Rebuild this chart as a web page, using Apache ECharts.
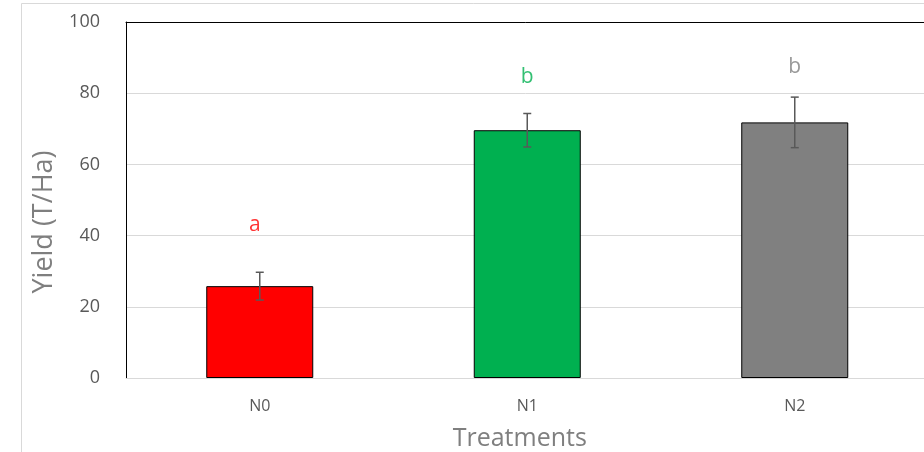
<!DOCTYPE html>
<html><head><meta charset="utf-8">
<script src="https://cdn.jsdelivr.net/npm/echarts@6/dist/echarts.min.js"></script>
<style>html,body{margin:0;padding:0;background:#fff;}#c{width:924px;height:452px;}</style>
</head><body><div id="c"></div>
<script>
var categories = ['N0', 'N1', 'N2'];
var yieldValues = [25.8, 69.6, 71.8];
var errorValues = [3.9, 4.7, 7.1];
var letters = ['a', 'b', 'b'];
var letterValues = [43, 84.6, 87.3];
var barColors = ['#FF0000', '#00B050', '#808080'];
var letterColors = ['#FF0000', '#00B050', '#808080'];
var yTicks = [0, 20, 40, 60, 80, 100];

var chart = echarts.init(document.getElementById('c'));
var font = '"Open Sans", "Noto Sans", sans-serif';
chart.setOption({
  animation: false,
  backgroundColor: '#fff',
  graphic: [{type: 'rect', left: 19, top: 1, shape: {width: 920, height: 460}, style: {fill: 'none', stroke: '#d9d9d9', lineWidth: 1}, silent: true}],
  grid: {left: 126, top: 22, width: 802.5, bottom: 74, containLabel: false, outerBoundsMode: 'none'},
  xAxis: [{
    type: 'category', data: categories,
    axisLine: {show: true, lineStyle: {color: '#d9d9d9', width: 1}},
    axisTick: {show: false},
    axisLabel: {color: '#595959', fontSize: 16, fontFamily: font, margin: 20},
    name: 'Treatments', nameLocation: 'middle', nameGap: 48,
    nameTextStyle: {color: '#7f7f7f', fontSize: 25, fontFamily: font, padding: [0, 15, 0, 0]}
  }, {
    type: 'category', data: categories, position: 'top',
    axisLine: {show: true, lineStyle: {color: '#000', width: 1}},
    axisTick: {show: false}, axisLabel: {show: false}
  }],
  yAxis: {
    type: 'value', min: 0, max: 100, interval: 20,
    axisLine: {show: true, lineStyle: {color: '#000', width: 1}},
    axisTick: {show: false},
    splitLine: {show: true, lineStyle: {color: '#d9d9d9', width: 1}},
    axisLabel: {color: '#595959', fontSize: 18, fontFamily: font, margin: 26},
    name: 'Yield (T/Ha)', nameLocation: 'middle', nameGap: 66, nameRotate: 90,
    nameTextStyle: {color: '#7f7f7f', fontSize: 27, fontFamily: font, padding: [0, 44, 0, 0]}
  },
  series: [{
    type: 'bar', barWidth: '40%',
    data: yieldValues.map(function (v, i) {
      return {value: v, itemStyle: {color: barColors[i], borderColor: '#000', borderWidth: 1}};
    }),
    z: 2
  }, {
    type: 'custom',
    data: yieldValues.map(function (v, i) { return [i, v - errorValues[i], v + errorValues[i]]; }),
    renderItem: function (params, api) {
      var lo = api.coord([api.value(0), api.value(1)]);
      var hi = api.coord([api.value(0), api.value(2)]);
      var hw = 4;
      var st = {stroke: '#595959', lineWidth: 1.5};
      return {type: 'group', children: [
        {type: 'line', shape: {x1: hi[0], y1: hi[1], x2: lo[0], y2: lo[1]}, style: st},
        {type: 'line', shape: {x1: hi[0] - hw, y1: hi[1], x2: hi[0] + hw, y2: hi[1]}, style: st},
        {type: 'line', shape: {x1: lo[0] - hw, y1: lo[1], x2: lo[0] + hw, y2: lo[1]}, style: st}
      ]};
    },
    z: 3
  }, {
    type: 'scatter', symbolSize: 0,
    data: letterValues.map(function (v, i) {
      return {value: [i, v], label: {show: true, position: 'inside', formatter: letters[i], color: letterColors[i], fontSize: 21, fontFamily: font, offset: [i === 0 ? -5 : 0, 0]}};
    }),
    z: 4
  }]
});
</script></body></html>
